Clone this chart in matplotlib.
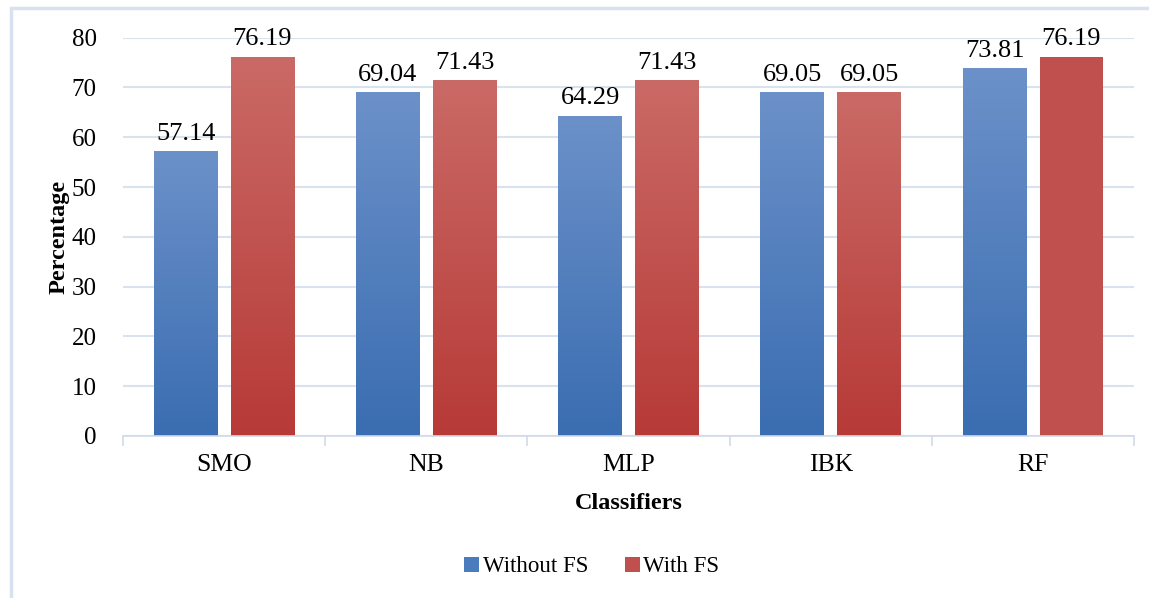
import numpy as np
import matplotlib.pyplot as plt
from matplotlib.colors import LinearSegmentedColormap
from matplotlib.patches import Rectangle, Patch

plt.rcParams['font.family'] = ['Liberation Serif', 'DejaVu Serif']

classifiers = ["SMO", "NB", "MLP", "IBK", "RF"]
without_fs = [57.14, 69.04, 64.29, 69.05, 73.81]
with_fs = [76.19, 71.43, 71.43, 69.05, 76.19]

blue_top, blue_bot = "#6C91C9", "#3A6DB1"
red_top, red_bot = "#CA6A66", "#B73A37"
red_flat = "#C0504D"

fig = plt.figure(figsize=(11.49, 5.98), dpi=100)
ax = fig.add_axes([0.107, 0.271, 0.880, 0.666])

x = np.arange(len(classifiers))
w = 0.315
off = 0.19


def grad_bar(ax, xc, h, top, bot):
    cmap = LinearSegmentedColormap.from_list("g", [bot, top])
    bar = ax.bar(xc, h, w, color="none", linewidth=0)[0]
    img = ax.imshow(np.linspace(0, 1, 256).reshape(-1, 1), cmap=cmap,
                    extent=[xc - w / 2, xc + w / 2, 0, h], origin="lower",
                    aspect="auto", zorder=2)
    img.set_clip_path(bar)
    return bar


for i in range(len(classifiers)):
    grad_bar(ax, x[i] - off, without_fs[i], blue_top, blue_bot)
    if i == len(classifiers) - 1:
        ax.bar(x[i] + off, with_fs[i], w, color=red_flat, zorder=2)
    else:
        grad_bar(ax, x[i] + off, with_fs[i], red_top, red_bot)
    ax.text(x[i] - off, without_fs[i] + 1.3, f"{without_fs[i]:.2f}",
            ha="center", va="bottom", fontsize=19)
    ax.text(x[i] + off, with_fs[i] + 1.3, f"{with_fs[i]:.2f}",
            ha="center", va="bottom", fontsize=19)

ax.set_xlim(-0.5, len(classifiers) - 0.5)
ax.set_ylim(0, 80)
ax.set_yticks(range(0, 81, 10))
ax.set_xticks(x)
ax.set_xticklabels(classifiers)
ax.set_xticks(np.arange(-0.5, len(classifiers), 1), minor=True)
ax.tick_params(axis="x", which="major", length=0, labelsize=18.5, pad=13)
ax.tick_params(axis="x", which="minor", length=7, color="#D0DAE8", width=1.2)
ax.tick_params(axis="y", length=0, labelsize=18, pad=19)
ax.grid(axis="y", color="#D9E3F0", linewidth=1.5, zorder=0)
ax.set_axisbelow(True)
for s in ["top", "right", "left"]:
    ax.spines[s].set_visible(False)
ax.spines["bottom"].set_color("#D0DAE8")
ax.spines["bottom"].set_linewidth(1.2)

ax.set_ylabel("Percentage", fontsize=17.5, fontweight="bold")
ax.yaxis.set_label_coords(-0.053, 0.5)
ax.set_xlabel("Classifiers", fontsize=17.5, fontweight="bold", labelpad=12)

handles = [Patch(facecolor="#4A7BBD", label="Without FS"),
           Patch(facecolor="#C0504D", label="With FS")]
fig.legend(handles=handles, loc="center", bbox_to_anchor=(0.515, 0.052),
           ncol=2, frameon=False, fontsize=16.5, handlelength=0.65,
           handleheight=0.65, handletextpad=0.15, columnspacing=1.6)

# outer chart frame
fig.patches.append(Rectangle((0.0095, -0.02), 1.05, 1.006,
                             transform=fig.transFigure, fill=False,
                             edgecolor="#D6E1F1", linewidth=2.5))

fig.savefig("out.png", dpi=100)
